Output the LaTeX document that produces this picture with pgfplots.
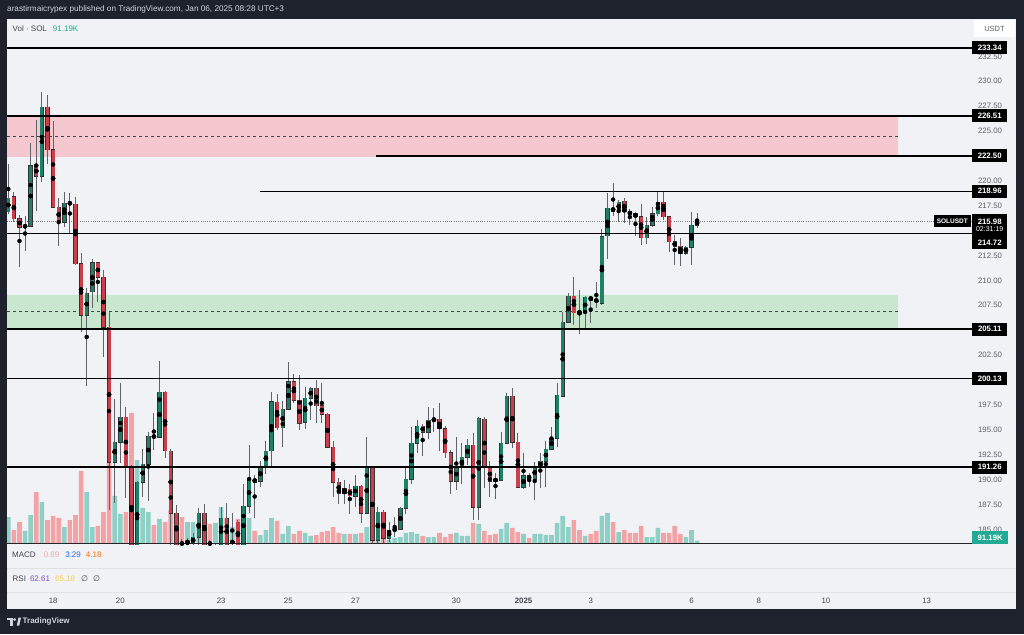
\documentclass[border=0pt]{standalone}
\usepackage{pgfplots}
\pgfplotsset{compat=1.18}
\usepackage{pgfplotstable}
\usepackage{fontspec}
\setmainfont{Liberation Sans}
\newfontfamily\dejavu{DejaVu Sans}

\definecolor{frame}{HTML}{1E222D}
\definecolor{pane}{HTML}{F0F2F5}
\definecolor{hdr}{HTML}{D1D4DC}
\definecolor{tickc}{HTML}{5D606B}
\definecolor{darkt}{HTML}{434651}
\definecolor{upc}{HTML}{1F8068}
\definecolor{dnc}{HTML}{C7404C}
\definecolor{wickc}{HTML}{5F636B}
\definecolor{vup}{HTML}{8ED0C6}
\definecolor{vdn}{HTML}{F3A3A6}
\definecolor{pinkz}{RGB}{245,199,206}
\definecolor{greenz}{RGB}{201,230,206}
\definecolor{tealc}{HTML}{22AB94}
\definecolor{macdp}{HTML}{F5A9B4}
\definecolor{macdb}{HTML}{2962FF}
\definecolor{macdo}{HTML}{FF6D00}
\definecolor{rsip}{HTML}{7E57C2}
\definecolor{rsiy}{HTML}{F2CF4A}
\definecolor{sepc}{HTML}{DFE1E6}

\pgfplotstableread{
i o h l c v
0 216.87 221.69 216.67 218.27 745
1 218.38 218.88 215.86 216.17 386
2 216.17 216.57 211.35 215.36 607
3 215.41 216.47 212.95 215.46 359
4 215.46 223.80 215.36 221.49 800
5 221.49 226.11 216.97 220.48 1435
6 220.48 228.92 219.88 227.41 1159
7 227.41 228.62 221.69 223.10 662
8 223.10 226.01 217.27 217.37 773
9 217.37 218.27 213.45 215.86 718
10 215.86 218.88 215.36 217.77 469
11 217.77 218.78 214.66 217.72 662
12 217.67 218.38 211.55 211.65 800
13 211.65 212.75 204.82 206.52 2015
14 206.52 209.26 199.39 208.73 1435
15 208.84 212.15 207.23 211.75 469
16 211.75 211.85 207.83 210.34 497
17 210.34 211.04 202.31 205.32 883
18 205.32 206.83 186.94 191.76 2236
19 191.76 198.09 187.64 193.77 1325
20 193.77 199.69 191.66 196.28 828
21 196.28 197.29 188.15 191.26 883
22 191.26 191.46 182.42 183.13 3616
23 183.23 189.85 182.42 189.75 2318
24 189.75 193.07 188.25 191.56 994
25 191.56 194.77 187.85 194.37 883
26 194.37 196.68 192.97 194.27 524
27 194.27 201.90 194.17 198.79 690
28 198.79 198.89 192.16 192.87 607
29 192.87 193.07 183.33 186.64 938
30 186.64 187.44 182.92 183.43 745
31 183.73 184.03 182.92 183.43 745
32 183.63 184.13 183.13 183.83 607
33 183.63 184.63 183.13 184.23 607
34 184.23 187.14 183.43 186.64 524
35 186.64 187.54 182.92 183.43 552
36 183.63 183.93 182.92 183.53 552
37 183.33 183.63 182.72 183.43 580
38 183.43 187.24 183.13 186.14 1021
39 186.14 187.64 182.92 183.43 718
40 183.63 186.64 183.13 183.83 469
41 185.74 185.94 182.92 183.43 690
42 183.43 189.55 183.13 187.34 718
43 187.34 193.47 186.64 190.05 718
44 190.05 190.46 186.14 189.75 359
45 189.85 191.86 189.25 191.36 248
46 191.36 193.87 190.56 192.87 386
47 192.87 198.79 191.16 197.79 718
48 197.79 198.59 194.98 195.18 635
49 195.18 197.89 193.27 197.08 276
50 197.08 201.80 196.98 199.80 497
51 199.80 200.60 197.69 197.99 276
52 197.99 200.50 194.98 195.68 359
53 195.78 199.29 195.08 198.19 304
54 198.19 199.29 195.98 199.19 221
55 199.19 200.00 195.68 197.39 248
56 197.39 199.69 195.68 196.58 331
57 196.58 196.68 193.17 193.27 359
58 193.27 193.87 188.25 189.75 469
59 189.75 190.15 187.54 188.65 304
60 188.65 189.95 187.54 189.15 276
61 189.05 189.55 186.54 188.35 276
62 188.35 190.46 187.24 189.35 276
63 189.35 189.45 185.64 186.64 304
64 186.64 194.27 186.54 191.16 469
65 191.16 191.26 183.63 183.93 552
66 183.93 187.24 183.63 186.74 138
67 186.74 186.94 183.63 184.13 138
68 184.13 185.74 183.73 184.93 110
69 184.93 186.24 184.23 185.03 166
70 185.03 187.24 184.93 187.14 193
71 187.14 191.16 186.54 190.05 304
72 190.05 195.28 189.55 193.67 331
73 193.67 195.98 192.67 195.38 276
74 195.38 195.58 192.36 194.77 221
75 194.77 197.29 194.07 195.98 193
76 195.98 197.19 194.77 196.08 193
77 196.08 197.69 192.87 195.08 304
78 195.08 195.38 192.16 192.67 193
79 192.67 192.97 188.55 189.85 276
80 189.85 194.27 188.95 191.26 304
81 191.26 193.67 189.55 192.26 221
82 192.26 194.07 191.46 193.47 221
83 193.47 194.67 185.94 187.24 580
84 187.24 196.28 185.94 196.18 552
85 196.08 196.28 189.15 191.26 359
86 191.26 191.86 188.25 189.85 248
87 190.05 190.66 188.05 189.85 276
88 189.95 194.77 189.85 193.67 414
89 193.67 198.69 193.57 198.39 580
90 198.39 199.19 193.17 193.77 442
91 193.77 194.67 189.15 189.25 331
92 189.25 192.67 189.05 190.36 276
93 190.36 190.66 189.25 190.05 166
94 190.05 191.76 187.95 191.36 276
95 191.26 192.67 189.15 191.86 276
96 191.86 193.87 189.25 193.07 248
97 193.07 195.28 192.97 194.17 248
98 194.17 199.69 193.27 198.49 580
99 198.39 206.83 198.29 205.82 773
100 205.82 208.73 205.72 208.43 469
101 208.43 210.34 205.52 206.73 662
102 206.73 209.04 204.62 206.68 386
103 206.73 208.43 205.22 208.33 221
104 208.33 208.43 205.72 208.03 276
105 208.03 209.84 207.23 207.93 359
106 207.73 215.16 207.53 214.36 773
107 214.46 218.78 212.15 217.27 856
108 217.27 219.78 216.47 216.97 607
109 216.97 218.07 215.86 217.87 331
110 217.97 218.27 215.76 216.87 386
111 216.87 217.17 215.56 216.67 304
112 216.67 216.87 214.46 216.37 304
113 216.37 217.67 213.55 214.26 497
114 214.26 216.37 213.65 215.56 193
115 215.56 217.37 215.36 216.67 193
116 216.67 218.88 216.47 217.87 442
117 217.87 218.88 216.07 216.37 304
118 216.37 216.47 212.85 213.86 304
119 213.86 214.56 211.55 213.45 497
120 213.45 214.26 211.45 212.75 276
121 212.75 213.45 212.55 213.35 193
122 213.35 216.87 211.55 215.56 386
123 215.56 216.77 215.26 215.98 91.19
}\candles

\tikzset{lbl/.style={fill=black, text=white, font=\bfseries\fontsize{7.8}{9}\selectfont,
  inner xsep=0pt, inner ysep=0pt, minimum width=35pt, minimum height=13pt, anchor=west}}

\begin{document}
\begin{tikzpicture}[x=1pt,y=1pt]
\fill[frame] (0pt,0pt) rectangle (1024pt,634pt);
\fill[pane] (7pt,25pt) rectangle (1016pt,615pt);
\draw[sepc, line width=0.8pt] (7pt,66pt) -- (1016pt,66pt);
\draw[sepc, line width=0.8pt] (7pt,42pt) -- (1016pt,42pt);

% volume
\begin{axis}[at={(7pt,90pt)}, anchor=south west, width=965pt, height=525pt, scale only axis,
  xmin=-0.232, xmax=172.09, ymin=0, ymax=14490,
  axis line style={draw=none}, xtick=\empty, ytick=\empty, major tick length=0pt,
  ybar, bar width=4.6pt]
\addplot[fill=vup, draw=none, bar shift=0pt] table[x=i, y expr={\thisrow{c}>=\thisrow{o} ? \thisrow{v} : 0}]{\candles};
\addplot[fill=vdn, draw=none, bar shift=0pt] table[x=i, y expr={\thisrow{c}<\thisrow{o} ? \thisrow{v} : 0}]{\candles};
\end{axis}

% price
\begin{axis}[at={(7pt,90pt)}, anchor=south west, width=965pt, height=525pt, scale only axis,
  xmin=-0.232, xmax=172.09, ymin=183.53, ymax=236.25,
  axis line style={draw=none}, xtick=\empty, major tick length=0pt, tick style={draw=none},
  ytick={185,187.5,190,192.5,195,197.5,202.5,207.5,210,212.5,217.5,220,225,227.5,230,232.5},
  yticklabels={185.00,187.50,190.00,192.50,195.00,197.50,202.50,207.50,210.00,212.50,217.50,220.00,225.00,227.50,230.00,232.50},
  yticklabel pos=right,
  yticklabel style={font=\fontsize{7.8}{9}\selectfont, text=tickc, anchor=center, xshift=18pt}]
% zones
\addplot[fill=pinkz, draw=none] coordinates {(-0.232,222.40) (158.9,222.40) (158.9,226.51) (-0.232,226.51) (-0.232,222.40)};
\addplot[fill=greenz, draw=none] coordinates {(-0.232,205.11) (158.9,205.11) (158.9,208.55) (-0.232,208.55) (-0.232,205.11)};
\addplot[darkt, line width=0.7pt, dash pattern=on 3pt off 3pt] coordinates {(-0.232,224.45) (158.9,224.45)};
\addplot[darkt, line width=0.7pt, dash pattern=on 3pt off 3pt] coordinates {(-0.232,206.85) (158.9,206.85)};
\addplot[gray, line width=0.5pt, dash pattern=on 1pt off 1.2pt] coordinates {(-0.232,215.98) (172.09,215.98)};
% candles: wicks
\addplot[only marks, mark=none, error bars/.cd, y dir=both, y explicit, error mark=none,
  error bar style={line width=0.9pt, draw=wickc, solid}]
  table[x=i, y expr={(\thisrow{h}+\thisrow{l})/2}, y error expr={(\thisrow{h}-\thisrow{l})/2}]{\candles};
% body outlines
\addplot[only marks, mark=none, error bars/.cd, y dir=both, y explicit, error mark=none,
  error bar style={line width=4.4pt, draw=black!80, solid}]
  table[x=i, y expr={(\thisrow{o}+\thisrow{c})/2}, y error expr={abs(\thisrow{c}-\thisrow{o})/2+0.05}]{\candles};
% body fills
\addplot[only marks, mark=none, error bars/.cd, y dir=both, y explicit, error mark=none,
  error bar style={line width=3.2pt, draw=upc, solid}]
  table[x=i, y expr={(\thisrow{o}+\thisrow{c})/2}, y error expr={max(\thisrow{c}-\thisrow{o},0)/2}]{\candles};
\addplot[only marks, mark=none, error bars/.cd, y dir=both, y explicit, error mark=none,
  error bar style={line width=3.2pt, draw=dnc, solid}]
  table[x=i, y expr={(\thisrow{o}+\thisrow{c})/2}, y error expr={max(\thisrow{o}-\thisrow{c},0)/2}]{\candles};
% levels
\addplot[black, line width=1.3pt] coordinates {(-0.232,233.34) (172.09,233.34)};
\addplot[black, line width=1.3pt] coordinates {(-0.232,226.51) (172.09,226.51)};
\addplot[black, line width=1.3pt] coordinates {(65.66,222.50) (172.09,222.50)};
\addplot[black, line width=1.3pt] coordinates {(44.95,218.96) (172.09,218.96)};
\addplot[black, line width=1.3pt] coordinates {(-0.232,214.72) (172.09,214.72)};
\addplot[black, line width=1.3pt] coordinates {(-0.232,205.11) (172.09,205.11)};
\addplot[black, line width=1.3pt] coordinates {(-0.232,200.13) (172.09,200.13)};
\addplot[black, line width=1.3pt] coordinates {(-0.232,191.26) (172.09,191.26)};
\addplot[black!85, line width=1.2pt] coordinates {(-0.232,183.60) (172.09,183.60)};
\coordinate (a1) at (axis cs:172.09,233.34);
\coordinate (a2) at (axis cs:172.09,226.51);
\coordinate (a3) at (axis cs:172.09,222.50);
\coordinate (a4) at (axis cs:172.09,218.96);
\coordinate (a5) at (axis cs:172.09,215.51);
\coordinate (a5b) at (axis cs:172.09,215.98);
\coordinate (a6) at (axis cs:172.09,213.81);
\coordinate (a7) at (axis cs:172.09,205.11);
\coordinate (a8) at (axis cs:172.09,200.13);
\coordinate (a9) at (axis cs:172.09,191.26);
\coordinate (a10) at (axis cs:172.09,184.18);
\end{axis}

% lower panes / time axis
\begin{axis}[at={(7pt,42pt)}, anchor=south west, width=965pt, height=48pt, scale only axis,
  xmin=-0.232, xmax=172.09, ymin=0, ymax=1,
  axis line style={draw=none}, ytick=\empty, major tick length=0pt, tick style={draw=none},
  xtick={8,20,38,50,62,80,92,104,122,134,146,164},
  xticklabels={18,20,23,25,27,30,\textbf{2025},3,6,8,10,13},
  xticklabel style={font=\fontsize{7.8}{9}\selectfont, text=darkt, yshift=-3pt}]
\addplot[draw=none] coordinates {(0,0.5)};
\end{axis}

% labels on price scale
\node[lbl] at (a1) {233.34};
\node[lbl] at (a2) {226.51};
\node[lbl] at (a3) {222.50};
\node[lbl] at (a4) {218.96};
\node[lbl, minimum height=23pt, align=center] at (a5) {215.98\\[-1.5pt]{\mdseries\fontsize{7}{8}\selectfont 02:31:19}};
\node[lbl] at (a6) {214.72};
\node[lbl] at (a7) {205.11};
\node[lbl] at (a8) {200.13};
\node[lbl] at (a9) {191.26};
\node[lbl, fill=tealc, minimum width=36pt] at (a10) {91.19K};
\node[lbl, anchor=east, minimum width=37pt, minimum height=12pt, font=\bfseries\fontsize{6.5}{8}\selectfont] at ([xshift=-1pt]a5b) {SOLUSDT};
\node[fill=white, text=tickc, font=\fontsize{7.5}{9}\selectfont, minimum width=41pt, minimum height=17pt, inner sep=0pt] at (994.5pt,605.5pt) {USDT};

% header / legends
\node[anchor=west, text=hdr, font=\fontsize{8.2}{10}\selectfont, inner sep=0pt] at (7pt,625pt) {arastirmaicrypex published on TradingView.com, Jan 06, 2025 08:28 UTC+3};
\node[anchor=west, inner sep=0pt, font=\fontsize{8}{10}\selectfont] at (12.5pt,605.7pt) {\textcolor{darkt}{Vol · SOL}\hspace{6pt}\textcolor{tealc}{91.19K}};
\node[anchor=west, inner sep=0pt, font=\fontsize{8}{10}\selectfont] at (12pt,79pt) {\textcolor{darkt}{MACD}\hspace{8pt}\textcolor{macdp}{0.89}\hspace{6pt}\textcolor{macdb}{3.29}\hspace{5pt}\textcolor{macdo}{4.18}};
\node[anchor=west, inner sep=0pt, font=\fontsize{8}{10}\selectfont] at (12.5pt,55.7pt) {\textcolor{darkt}{RSI}\hspace{4pt}\textcolor{rsip}{62.61}\hspace{5pt}\textcolor{rsiy}{65.18}\hspace{6pt}\textcolor{darkt}{\dejavu ∅}\hspace{5pt}\textcolor{darkt}{\dejavu ∅}};

% footer logo
\fill[hdr] (7pt,14.5pt) rectangle (12.5pt,16.5pt);
\fill[hdr] (10.3pt,8.5pt) rectangle (12.5pt,16.5pt);
\fill[hdr] (14.6pt,14.6pt) circle (1.5pt);
\fill[hdr] (16.8pt,8.5pt) -- (19.3pt,8.5pt) -- (21pt,16.5pt) -- (18.5pt,16.5pt) -- cycle;
\node[anchor=west, inner sep=0pt, text=hdr, font=\bfseries\fontsize{8}{10}\selectfont] at (22.5pt,12.3pt) {TradingView};
\pgfresetboundingbox
\useasboundingbox (0pt,0pt) rectangle (1024pt,634pt);
\end{tikzpicture}
\end{document}
